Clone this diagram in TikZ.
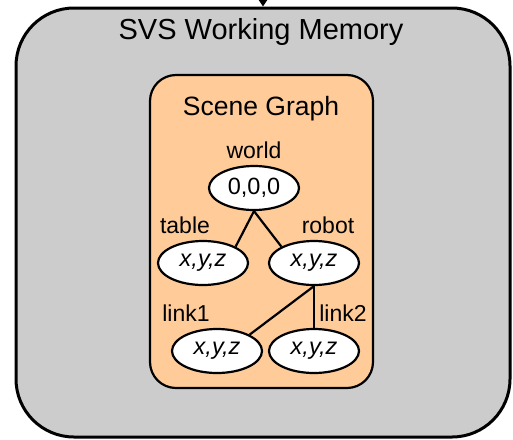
\documentclass[tikz,border=0pt]{standalone}
\usepackage{fontspec}
\setmainfont{Liberation Sans}
\usetikzlibrary{arrows.meta,shapes.geometric}
\definecolor{memgray}{HTML}{CCCCCC}
\definecolor{peach}{HTML}{FFCC99}
\begin{document}
\begin{tikzpicture}[x=1pt,y=-1pt,
  outerbox/.style={draw=black,line width=3pt,fill=memgray,rounded corners=58pt,inner sep=0pt},
  scenebox/.style={draw=black,line width=2.2pt,fill=peach,rounded corners=26pt,inner sep=0pt},
  pose/.style={ellipse,draw=black,line width=2.2pt,fill=white,minimum width=90pt,minimum height=44pt,inner sep=0pt,font=\fontsize{23.5}{27}\selectfont},
  lbl/.style={anchor=base,inner sep=0pt,font=\fontsize{23}{27}\selectfont},
  edge/.style={draw=black,line width=2.2pt}
]
\useasboundingbox (0,0) rectangle (513,439);
\node[outerbox,minimum width=494pt,minimum height=429pt] (mem) at (263,222.5) {};
\coordinate (arrtop) at (263,-30);
\draw[line width=2pt,-{Triangle[width=10pt,length=8pt]}] (arrtop) -- (mem.north);
\node[anchor=base,inner sep=0pt,font=\fontsize{29}{33}\selectfont] (title) at (261,39) {SVS Working Memory};
\node[scenebox,minimum width=223pt,minimum height=313pt] (sg) at (261.5,231.5) {};
\node[anchor=base,inner sep=0pt,font=\fontsize{26.5}{30}\selectfont] (sgtitle) at (261,115) {Scene Graph};
\node[pose] (world) at (254,188) {0,0,0};
\node[pose] (table) at (203,263) {\itshape x,y,z};
\node[pose] (robot) at (314,263) {\itshape x,y,z};
\node[pose] (link1) at (217,351) {\itshape x,y,z};
\node[pose] (link2) at (314,351) {\itshape x,y,z};
\node[lbl] (worldl) at (254,158) {world};
\node[lbl] (tablel) at (185,233) {table};
\node[lbl] (robotl) at (328,233) {robot};
\node[lbl] (link1l) at (186,321) {link1};
\node[lbl] (link2l) at (343,321) {link2};
\draw[edge] (world.south) -- (table.north east);
\draw[edge] (world.south) -- (robot.north west);
\draw[edge] (robot.south) -- (link1.north east);
\draw[edge] (robot.south) -- (link2.north);
\end{tikzpicture}
\end{document}
